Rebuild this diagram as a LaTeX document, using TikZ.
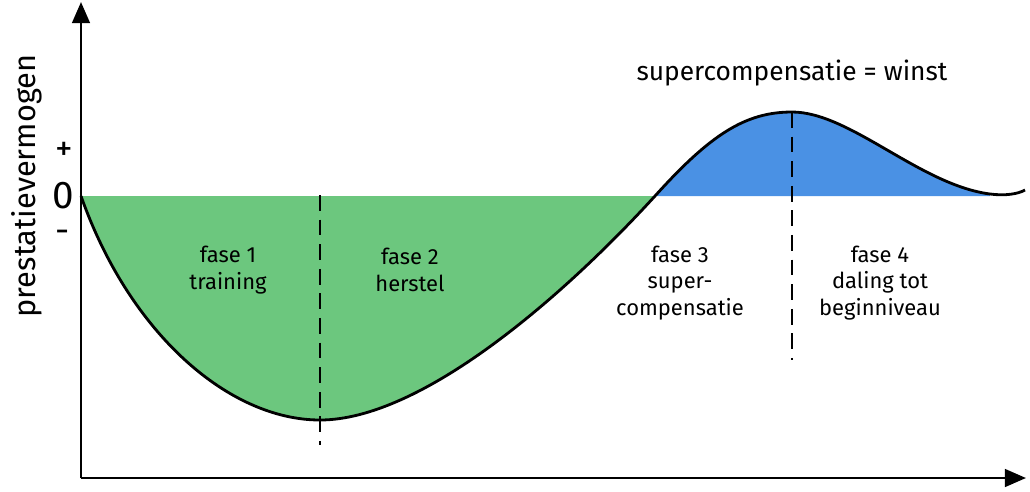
\documentclass[tikz,border=0pt]{standalone}
\usepackage{fontspec}
\setmainfont{Fira Sans}
\usetikzlibrary{arrows.meta, positioning}
\definecolor{LossGreen}{RGB}{108, 199, 126}
\definecolor{GainBlue}{RGB}{74, 145, 228}

\begin{document}
\begin{tikzpicture}[
    x=0.02cm, y=-0.02cm,
    axis/.style={-{Triangle[length=12pt, width=10pt]}, line width=1.6pt},
    curve/.style={line width=1.6pt, black},
    marker/.style={dashed, dash pattern=on 9pt off 5pt, line width=0.8pt},
    phase/.style={align=center, font=\fontsize{12.5}{15}\selectfont},
    tick/.style={font=\fontsize{20}{24}\selectfont}
]
    \useasboundingbox (0,0) rectangle (1030,491);

    % Punten
    \coordinate (origin) at (81,478);
    \coordinate (ytop) at (81,2);
    \coordinate (xend) at (1026,478);
    \coordinate (start) at (81,196);
    \coordinate (dip) at (320,420);
    \coordinate (cross) at (655,196);
    \coordinate (peak) at (792,112);
    \coordinate (back) at (990,194);
    \coordinate (stop) at (1025,190);

    % Vlakken
    \fill[LossGreen] (start) .. controls (130,335) and (230,420) .. (dip)
        .. controls (420,420) and (560,300) .. (cross) -- cycle;
    \fill[GainBlue] (cross) .. controls (710,135) and (745,112) .. (peak)
        .. controls (850,112) and (920,185) .. (back) -- (990,196) -- cycle;

    % Curve
    \draw[curve] (start) .. controls (130,335) and (230,420) .. (dip)
        .. controls (420,420) and (560,300) .. (cross)
        .. controls (710,135) and (745,112) .. (peak)
        .. controls (850,112) and (920,185) .. (back)
        .. controls (1005,196) and (1018,194) .. (stop);

    % Stippellijnen
    \coordinate (diplow) at (320,445);
    \coordinate (peaklow) at (792,360);
    \draw[marker] (320,195) -- (diplow);
    \draw[marker] (peak) -- (peaklow);

    % Assen
    \draw[axis] (origin) -- (ytop);
    \draw[axis] (origin) -- (xend);

    % Labels
    \node[rotate=90, font=\fontsize{17.5}{21}\selectfont] (ylabel) at (27,186) {prestatievermogen};
    \node[tick] (plus) at (64,151) {+};
    \node[font=\fontsize{22}{26}\selectfont] (zero) at (63,196) {0};
    \node[tick] (minus) at (63,236) {-};
    \node[font=\fontsize{15}{18}\selectfont] (gain) at (792,73) {supercompensatie = winst};

    \node[phase] (fase1) at (228,270) {fase 1\\training};
    \node[phase] (fase2) at (410,270) {fase 2\\herstel};
    \node[phase] (fase3) at (680,283) {fase 3\\super-\\compensatie};
    \node[phase] (fase4) at (880,283) {fase 4\\daling tot\\beginniveau};
\end{tikzpicture}
\end{document}
